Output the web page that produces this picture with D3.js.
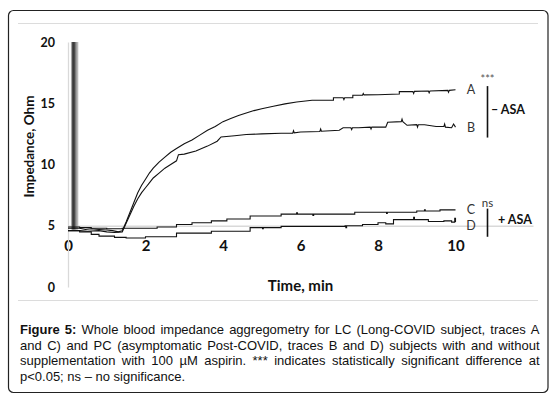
<!DOCTYPE html>
<html><head><meta charset="utf-8">
<script src="https://cdn.jsdelivr.net/npm/d3@7"></script>
<style>body{margin:0;background:#fff}svg{display:block}</style>
</head><body>
<svg id="c" width="560" height="397"></svg>
<script>
// ---------- data ----------
const xTicks = [0, 2, 4, 6, 8, 10];
const yTicks = [0, 5, 10, 15, 20];
const traceNames = ["A", "B", "C", "D"];
const traceA = [[0,4.8],[0.3,4.8],[0.45,4.7],[0.6,4.75],[0.8,4.7],[1.0,4.65],[1.15,4.6],[1.3,4.5],[1.4,4.6],
  [1.5,5.3],[1.6,6.1],[1.7,6.9],[1.8,7.7],[1.9,8.3],[2.0,8.8],[2.1,9.3],[2.2,9.7],[2.35,10.2],[2.5,10.6],
  [2.65,11.0],[2.8,11.3],[3.0,11.7],[3.2,12.0],[3.4,12.4],[3.6,12.8],[3.8,13.1],[4.0,13.5],[4.2,13.75],
  [4.4,14.0],[4.6,14.2],[4.8,14.4],[5.0,14.55],[5.3,14.75],[5.6,14.95],[5.9,15.1],[6.3,15.25],[6.85,15.25],
  [6.85,15.45],[7.1,15.45],[7.12,15.3],[7.14,15.45],[7.35,15.45],[7.35,15.65],[7.6,15.65],[7.62,15.8],[7.64,15.68],
  [8.0,15.7],[8.55,15.75],[8.55,15.95],[8.9,15.95],[8.92,15.8],[8.94,15.97],[9.3,16.0],[9.32,15.85],[9.34,16.0],
  [9.8,16.05],[9.82,15.9],[9.84,16.05],[10,16.1]];
const traceB = [[0,4.6],[0.3,4.6],[0.5,4.55],[0.8,4.6],[1.0,4.5],[1.2,4.45],[1.4,4.5],
  [1.5,5.2],[1.6,5.9],[1.7,6.6],[1.8,7.2],[1.9,7.7],[2.0,8.1],[2.1,8.5],[2.2,8.9],[2.35,9.3],[2.5,9.7],
  [2.65,10.0],[2.8,10.3],[2.85,10.8],[3.0,10.85],[3.3,11.1],[3.6,11.5],[3.85,11.9],[3.95,12.25],[4.3,12.35],
  [4.6,12.45],[5.0,12.5],[5.5,12.55],[5.8,12.55],[5.82,12.75],[5.84,12.58],[6.0,12.65],[6.5,12.7],[6.52,12.9],
  [6.54,12.72],[7.0,12.8],[7.1,13.0],[7.3,13.0],[7.32,12.85],[7.34,13.0],[7.5,13.0],[7.8,13.05],[7.82,12.9],
  [7.84,13.05],[8.2,13.05],[8.25,13.45],[8.6,13.5],[8.62,13.7],[8.64,13.5],[8.75,13.2],[9.0,13.25],[9.02,13.05],
  [9.04,13.25],[9.2,13.25],[9.5,13.1],[9.7,13.1],[9.72,13.3],[9.74,13.05],[9.9,13.0],[9.95,13.3],[10,13.05]];
const traceC = [[0,4.9],[0.3,4.85],[0.6,4.8],[1.0,4.75],[1.4,4.8],[2.3,4.9],[2.8,5.1],[3.2,5.25],[3.7,5.4],
  [4.1,5.55],[4.7,5.8],[5.5,5.95],[5.9,6.05],[5.92,5.95],[6.3,5.95],[6.32,5.85],[6.34,5.95],[7.4,6.1],
  [8.2,6.1],[8.22,6.0],[8.24,6.1],[9.0,6.2],[9.2,6.3],[9.22,6.2],[9.6,6.3],[10,6.3]];
const traceD = [[0,4.6],[0.3,4.5],[0.6,4.3],[0.8,4.15],[1.2,4.05],[1.5,4.0],[2.0,4.1],[2.8,4.4],[3.7,4.55],
  [4.7,4.85],[5.0,4.85],[5.02,4.75],[5.04,4.85],[5.5,4.95],[7.15,5.0],[7.17,4.85],[7.19,5.0],[7.6,5.1],
  [8.0,5.25],[8.2,5.15],[8.4,5.5],[8.9,5.5],[8.92,5.7],[8.94,5.5],[9.3,5.35],[9.7,5.4],[9.9,5.3],[9.98,5.6],[10,5.3]];
const spikeTimes = [0.09, 0.11, 0.13, 0.15, 0.17, 0.19, 0.21, 0.23, 0.25];
const spikeBase = 4.7;
const labelValues = [16.1, 13.0, 6.3, 5.0];
const groupNames = ["\u2013 ASA", "+ ASA"];
const groupMarks = ["***", "ns"];
const groupRanges = [[16.4, 12.2], [6.4, 4.1]];
const groupLabelValues = [14.45, 5.55];
const groupMarkValues = [17.0, 6.9];
const xTitle = "Time, min";
const yTitle = "Impedance, Ohm";
const captionLines = [
  "Figure 5: Whole blood impedance aggregometry for LC (Long-COVID subject, traces A",
  "and C) and PC (asymptomatic Post-COVID, traces B and D) subjects with and without",
  "supplementation with 100 \u00b5M aspirin. *** indicates statistically significant difference at",
  "p<0.05; ns \u2013 no significance."
];

// ---------- drawing ----------
const svg = d3.select("#c");
const traces = [traceA, traceB, traceC, traceD];
const x = d3.scaleLinear().domain([0, 12]).range([68, 533]);
const y = d3.scaleLinear().domain([0, 20]).range([287, 42]);
const FONT = "Lato, 'Open Sans', sans-serif";

// outer frame
svg.append("rect").attr("x", 8.5).attr("y", 10.5).attr("width", 539.5).attr("height", 382)
  .attr("rx", 5).attr("fill", "#fff").attr("stroke", "#222").attr("stroke-width", 1.2);
// chart-area frame lines
[23.5, 300.5].forEach(yy => svg.append("line").attr("x1", 18).attr("x2", 538)
  .attr("y1", yy).attr("y2", yy).attr("stroke", "#dcdcdc").attr("stroke-width", 1));

// axes
const xAxis = svg.append("g").attr("transform", `translate(0,${y(5)})`)
  .call(d3.axisBottom(x).tickValues(xTicks).tickSize(0).tickSizeOuter(0).tickPadding(15));
const yAxis = svg.append("g").attr("transform", `translate(${x(0)},0)`)
  .call(d3.axisLeft(y).tickValues(yTicks).tickSize(0).tickSizeOuter(0).tickPadding(13));
[xAxis, yAxis].forEach(a => {
  a.select(".domain").attr("stroke", "#d9d9d9").attr("stroke-width", 1.3);
  a.selectAll("text").attr("font-family", FONT).attr("font-weight", "bold").attr("fill", "#111");
});
xAxis.selectAll("text").attr("font-size", 15);
yAxis.selectAll("text").attr("font-size", 12.5);

// titles
svg.append("text").attr("x", (x(0) + x(12)) / 2).attr("y", 291).attr("text-anchor", "middle")
  .attr("font-family", FONT).attr("font-weight", "bold").attr("font-size", 15).attr("fill", "#111").text(xTitle);
svg.append("text").attr("transform", `translate(34,${(y(0) + y(20)) / 2 - 18}) rotate(-90)`)
  .attr("text-anchor", "middle").attr("font-family", FONT).attr("font-weight", "bold")
  .attr("font-size", 13.5).attr("fill", "#111").text(yTitle);

// clip
svg.append("clipPath").attr("id", "pc").append("rect")
  .attr("x", x(0)).attr("y", y(20)).attr("width", x(12) - x(0)).attr("height", y(0) - y(20));
const plot = svg.append("g").attr("clip-path", "url(#pc)");

// spikes
const spikeColors = ["#cfcfcf", "#555", "#333", "#2a2a2a", "#444", "#666", "#888", "#9a9a9a", "#b5b5b5"];
plot.selectAll("line.sp").data(spikeTimes).join("line").attr("class", "sp")
  .attr("x1", d => x(d)).attr("x2", d => x(d)).attr("y1", y(spikeBase)).attr("y2", y(20) - 5)
  .attr("stroke", (d, i) => spikeColors[i]).attr("stroke-width", 1.2);

// traces
traces.forEach((tr, i) => {
  const line = d3.line().x(d => x(d[0])).y(d => y(d[1]))
    .curve(i < 2 ? d3.curveLinear : d3.curveStepAfter);
  plot.append("path").datum(tr).attr("d", line).attr("fill", "none")
    .attr("stroke", "#111").attr("stroke-width", 1.1);
});

// trace labels
svg.selectAll("text.tl").data(traceNames).join("text").attr("class", "tl")
  .attr("x", x(10.4)).attr("y", (d, i) => y(labelValues[i])).attr("dy", "0.36em")
  .attr("text-anchor", "middle").attr("font-family", FONT).attr("font-size", 12.5)
  .attr("fill", "#333").text(d => d);

// group brackets
groupRanges.forEach((r, i) => {
  svg.append("line").attr("x1", 487.5).attr("x2", 487.5).attr("y1", y(r[0])).attr("y2", y(r[1]))
    .attr("stroke", "#111").attr("stroke-width", 1.6);
  svg.append("text").attr("x", i === 0 ? 491 : 498).attr("y", y(groupLabelValues[i])).attr("dy", "0.36em")
    .attr("font-family", FONT).attr("font-weight", "bold").attr("font-size", 12.5).attr("fill", "#111")
    .text(groupNames[i]);
  svg.append("text").attr("x", 487.5).attr("y", y(groupMarkValues[i])).attr("dy", "0.36em")
    .attr("text-anchor", "middle").attr("font-family", FONT).attr("font-size", i === 0 ? 11 : 11.5)
    .attr("fill", i === 0 ? "#555" : "#333").text(groupMarks[i]);
});

// caption (justified)
const capX0 = 20, capX1 = 539.5, capY0 = 334, capLH = 15.6;
captionLines.forEach((ln, i) => {
  const words = ln.split(" ");
  const t = svg.append("text").attr("y", capY0 + i * capLH)
    .attr("font-family", "'Liberation Sans', Arial, sans-serif").attr("font-size", 13).attr("fill", "#111");
  const spans = words.map((w, j) => t.append("tspan").text(w)
    .attr("font-weight", i === 0 && j < 2 ? "bold" : null));
  const widths = spans.map(s => s.node().getComputedTextLength());
  const total = d3.sum(widths);
  const last = i === captionLines.length - 1;
  const gap = last ? 3.6 : (capX1 - capX0 - total) / (words.length - 1);
  let xx = capX0;
  spans.forEach((s, j) => { s.attr("x", xx); xx += widths[j] + gap; });
});
</script>
</body></html>
